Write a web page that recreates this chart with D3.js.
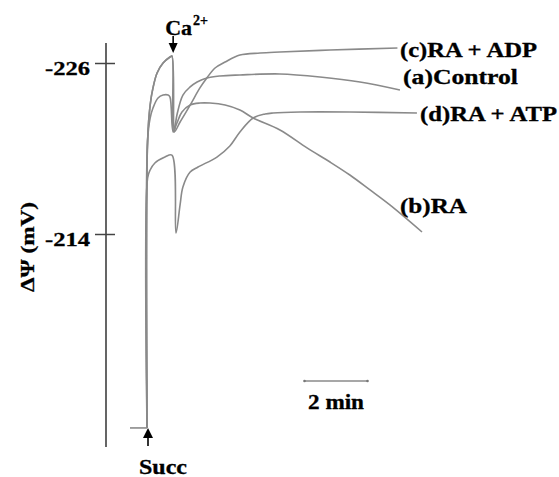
<!DOCTYPE html>
<html>
<head>
<meta charset="utf-8">
<script src="https://cdn.jsdelivr.net/npm/d3@7"></script>
<style>
  html, body { margin: 0; padding: 0; background: #fff; }
  svg { display: block; }
  text { font-family: "Liberation Serif", "Times New Roman", serif; font-weight: bold; fill: #000; stroke: #000; stroke-width: 0.3px; }
</style>
</head>
<body>
<svg id="chart" width="559" height="477"></svg>
<script>
// ---- Data (time in minutes after succinate, membrane potential in mV) ----
const yTicks = [-226, -214];
const yTickLabels = ["-226", "-214"];
const seriesNames = ["(c)RA + ADP", "(a)Control", "(d)RA + ATP", "(b)RA"];

const succStubT = [-0.54, 0];
const succStubV = [-200.39, -200.39];

const controlT = [0, 0.02, 0.10, 0.19, 0.32, 0.51, 0.73, 0.79, 0.86, 0.95, 1.14, 1.37, 1.59, 1.90, 2.32, 2.95, 4.22, 5.49, 6.76, 8.03];
const controlV = [-200.39, -220.60, -223.05, -224.25, -225.30, -226.00, -226.42, -226.49, -221.16, -222.35, -223.75, -224.32, -224.67, -224.95, -225.09, -225.16, -225.23, -225.02, -224.67, -224.11];

const adpT = [0, 0.02, 0.10, 0.19, 0.32, 0.51, 0.73, 0.79, 0.86, 1.05, 1.37, 1.68, 1.90, 2.16, 2.48, 2.95, 3.59, 4.22, 5.81, 7.95];
const adpV = [-200.39, -220.60, -223.05, -224.25, -225.30, -226.00, -226.42, -226.49, -221.16, -221.86, -223.05, -224.25, -224.95, -225.65, -226.07, -226.56, -226.70, -226.77, -226.91, -227.05];

const raT = [0, 0.02, 0.10, 0.19, 0.35, 0.51, 0.67, 0.73, 0.83, 0.95, 1.11, 1.37, 1.68, 2.00, 2.48, 2.95, 3.37, 4.22, 5.08, 5.81, 6.44, 7.08, 7.71, 8.73];
const raV = [-200.39, -220.60, -222.14, -222.84, -223.54, -223.75, -223.75, -223.61, -221.16, -221.79, -222.56, -223.05, -223.19, -223.19, -223.05, -222.70, -222.14, -221.30, -220.04, -219.05, -218.14, -217.09, -216.04, -214.14];

const atpT = [0, 0.02, 0.10, 0.25, 0.57, 0.79, 0.92, 1.05, 1.14, 1.37, 1.62, 2.22, 2.63, 2.95, 3.37, 3.75, 4.00, 4.86, 6.44, 8.57];
const atpV = [-200.39, -217.93, -218.49, -218.98, -219.40, -219.54, -214.07, -216.04, -217.30, -218.35, -218.70, -219.40, -220.18, -221.16, -222.14, -222.42, -222.49, -222.56, -222.56, -222.49];

const caAdditionTime = 0.83;   // min
const succAdditionTime = 0;    // min
const scaleBarStart = 5.0;     // min
const scaleBarLength = 2;      // min
const scaleBarLabel = "2 min";

// ---- Scales ----
const svg = d3.select("#chart");
const x = d3.scaleLinear().domain([0, 2]).range([147, 210]);
const y = d3.scaleLinear().domain([-226, -214]).range([63, 234]);

const toPts = (T, V) => T.map((t, i) => [t, V[i]]);
const line = d3.line().x(d => x(d[0])).y(d => y(d[1])).curve(d3.curveCatmullRom.alpha(0.5));
const traceColor = "#8a8a8a";

// ---- Y axis ----
const axisG = svg.append("g").attr("transform", "translate(106,0)");
axisG.call(d3.axisLeft(y).tickValues(yTicks).tickFormat((d, i) => yTickLabels[i]).tickSizeOuter(0));
axisG.select(".domain").attr("d", `M0,43V447`).attr("stroke", "#555").attr("stroke-width", 1.8);
axisG.selectAll(".tick line").attr("x1", -11).attr("x2", 9).attr("stroke", "#444").attr("stroke-width", 1.5);
axisG.selectAll(".tick text")
  .attr("x", -16).attr("dy", 11.5)
  .style("font-family", '"Liberation Serif", serif').style("font-weight", "bold").style("font-size", "19px")
  .attr("fill", "#000")
  .attr("textLength", 45).attr("lengthAdjust", "spacingAndGlyphs");

svg.append("text")
  .attr("transform", "translate(34,247) rotate(-90)")
  .attr("text-anchor", "middle")
  .style("font-size", "18px")
  .attr("textLength", 90).attr("lengthAdjust", "spacingAndGlyphs")
  .text("ΔΨ (mV)");

// ---- Traces ----
const traces = [
  toPts(succStubT, succStubV),
  toPts(atpT, atpV),
  toPts(raT, raV),
  toPts(controlT, controlV),
  toPts(adpT, adpV)
];
svg.append("g").selectAll("path").data(traces).join("path")
  .attr("d", line)
  .attr("fill", "none")
  .attr("stroke", traceColor)
  .attr("stroke-width", 1.6)
  .attr("stroke-linejoin", "round");

// ---- Series labels ----
const labelLayout = [
  { x: 400, y: 57, w: 137 },
  { x: 403, y: 84, w: 115 },
  { x: 420, y: 121, w: 137 },
  { x: 400, y: 213, w: 67 }
];
svg.append("g").selectAll("text").data(seriesNames).join("text")
  .attr("x", (d, i) => labelLayout[i].x)
  .attr("y", (d, i) => labelLayout[i].y)
  .style("font-size", "20px")
  .attr("textLength", (d, i) => labelLayout[i].w)
  .attr("lengthAdjust", "spacingAndGlyphs")
  .text(d => d);

// ---- Ca2+ arrow ----
const caX = x(caAdditionTime);
svg.append("line").attr("x1", caX).attr("x2", caX).attr("y1", 36).attr("y2", 46)
  .attr("stroke", "#000").attr("stroke-width", 1.6);
svg.append("path").attr("d", `M${caX - 4.5},43L${caX + 4.5},43L${caX},53Z`).attr("fill", "#000");
const caText = svg.append("text").attr("x", caX - 8).attr("y", 35).style("font-size", "22px");
caText.append("tspan").text("Ca");
caText.append("tspan").attr("dy", -10).attr("dx", 1).style("font-size", "14px").text("2+");

// ---- Succ arrow ----
const sX = x(succAdditionTime) + 1;
svg.append("line").attr("x1", sX).attr("x2", sX).attr("y1", 434).attr("y2", 446)
  .attr("stroke", "#000").attr("stroke-width", 1.6);
svg.append("path").attr("d", `M${sX - 5},438L${sX + 5},438L${sX},428Z`).attr("fill", "#000");
svg.append("text").attr("x", 139).attr("y", 474).style("font-size", "20px")
  .attr("textLength", 48).attr("lengthAdjust", "spacingAndGlyphs").text("Succ");

// ---- Time scale bar ----
const sb0 = x(scaleBarStart), sb1 = x(scaleBarStart + scaleBarLength);
svg.append("line").attr("x1", sb0).attr("x2", sb1).attr("y1", 381).attr("y2", 381)
  .attr("stroke", traceColor).attr("stroke-width", 1.6);
svg.selectAll(".sbcap").data([sb0, sb1]).join("circle").attr("class", "sbcap")
  .attr("cx", d => d).attr("cy", 381).attr("r", 1.3).attr("fill", "#777");
svg.append("text").attr("x", (sb0 + sb1) / 2).attr("y", 409).attr("text-anchor", "middle")
  .style("font-size", "20px").attr("textLength", 56).attr("lengthAdjust", "spacingAndGlyphs")
  .text(scaleBarLabel);
</script>
</body>
</html>
